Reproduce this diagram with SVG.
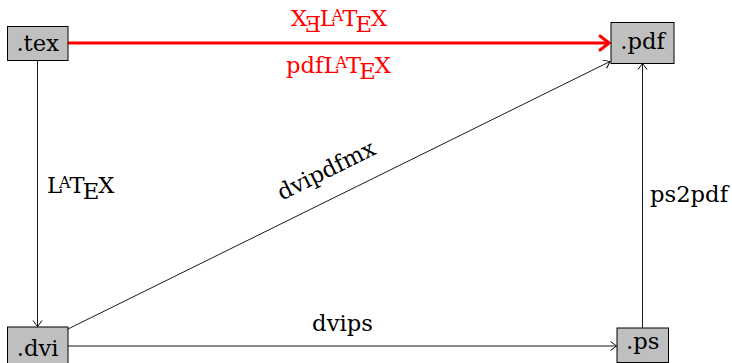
<svg xmlns="http://www.w3.org/2000/svg" width="732" height="363" viewBox="0 0 732 363">
<style>
text{font-family:"DejaVu Serif",serif;font-size:22.7px;fill:#000}
.node rect{fill:#bfbfbf;stroke:#000;stroke-width:1}
.red{fill:#ff0000}
.edge{fill:none;stroke:#000;stroke-width:0.9}
.redge{fill:none;stroke:#ff0000;stroke-width:3}
.mid{text-anchor:middle}
.sm{font-size:15.9px}
</style>
<defs>
<marker id="ah" markerUnits="userSpaceOnUse" markerWidth="14" markerHeight="14" viewBox="-8 -7 10 14" refX="0" refY="0" orient="auto">
<path d="M -6 -4.5 Q -1.5 -1.2 0 0 Q -1.5 1.2 -6 4.5" fill="none" stroke="#000" stroke-width="1"/>
</marker>
<marker id="ahr" markerUnits="userSpaceOnUse" markerWidth="20" markerHeight="20" viewBox="-12 -10 14 20" refX="0" refY="0" orient="auto">
<path d="M -9 -7 Q -2.5 -2 0 0 Q -2.5 2 -9 7" fill="none" stroke="#ff0000" stroke-width="3" stroke-linecap="round"/>
</marker>
</defs>
<g id="connectors">
<line class="redge" x1="68" y1="43" x2="609" y2="43" marker-end="url(#ahr)"/>
<line class="edge" x1="37.5" y1="60.5" x2="37.5" y2="326.5" marker-end="url(#ah)"/>
<line class="edge" x1="68" y1="346" x2="616.5" y2="346" marker-end="url(#ah)"/>
<line class="edge" x1="642.5" y1="328" x2="642.5" y2="63.5" marker-end="url(#ah)"/>
<line class="edge" x1="68" y1="329" x2="610" y2="61.5" marker-end="url(#ah)"/>
<text class="red" x="291" y="26">X<tspan dx="-2" dy="6">Ǝ</tspan><tspan dx="-2" dy="-6">L</tspan><tspan class="sm" dx="-3" dy="-4.9">A</tspan><tspan dx="-1" dy="4.9">T</tspan><tspan dx="-2" dy="6">E</tspan><tspan dx="-1" dy="-6">X</tspan></text>
<text class="red" x="286" y="73">pdfL<tspan class="sm" dx="-3" dy="-4.9">A</tspan><tspan dx="-1" dy="4.9">T</tspan><tspan dx="-2" dy="6">E</tspan><tspan dx="-1" dy="-6">X</tspan></text>
<text x="47" y="193">L<tspan class="sm" dx="-3" dy="-4.9">A</tspan><tspan dx="-1" dy="4.9">T</tspan><tspan dx="-2" dy="6">E</tspan><tspan dx="-1" dy="-6">X</tspan></text>
<text class="mid" transform="translate(338.5,195) rotate(-26.35)" x="0" y="-20">dvipdfmx</text>
<text class="mid" x="342.5" y="331">dvips</text>
<text x="650" y="202">ps2pdf</text>
</g>
<g id="tex" class="node"><rect x="7.5" y="26.5" width="60.5" height="34"/><text class="mid" x="37.7" y="51">.tex</text></g>
<g id="pdf" class="node"><rect x="611" y="22.5" width="63" height="41"/><text class="mid" x="642.5" y="49">.pdf</text></g>
<g id="dvi" class="node"><rect x="7.5" y="327" width="60.5" height="40"/><text class="mid" x="37.7" y="356">.dvi</text></g>
<g id="ps" class="node"><rect x="617" y="328" width="51.5" height="34.5"/><text class="mid" x="642.7" y="349">.ps</text></g>
</svg>
